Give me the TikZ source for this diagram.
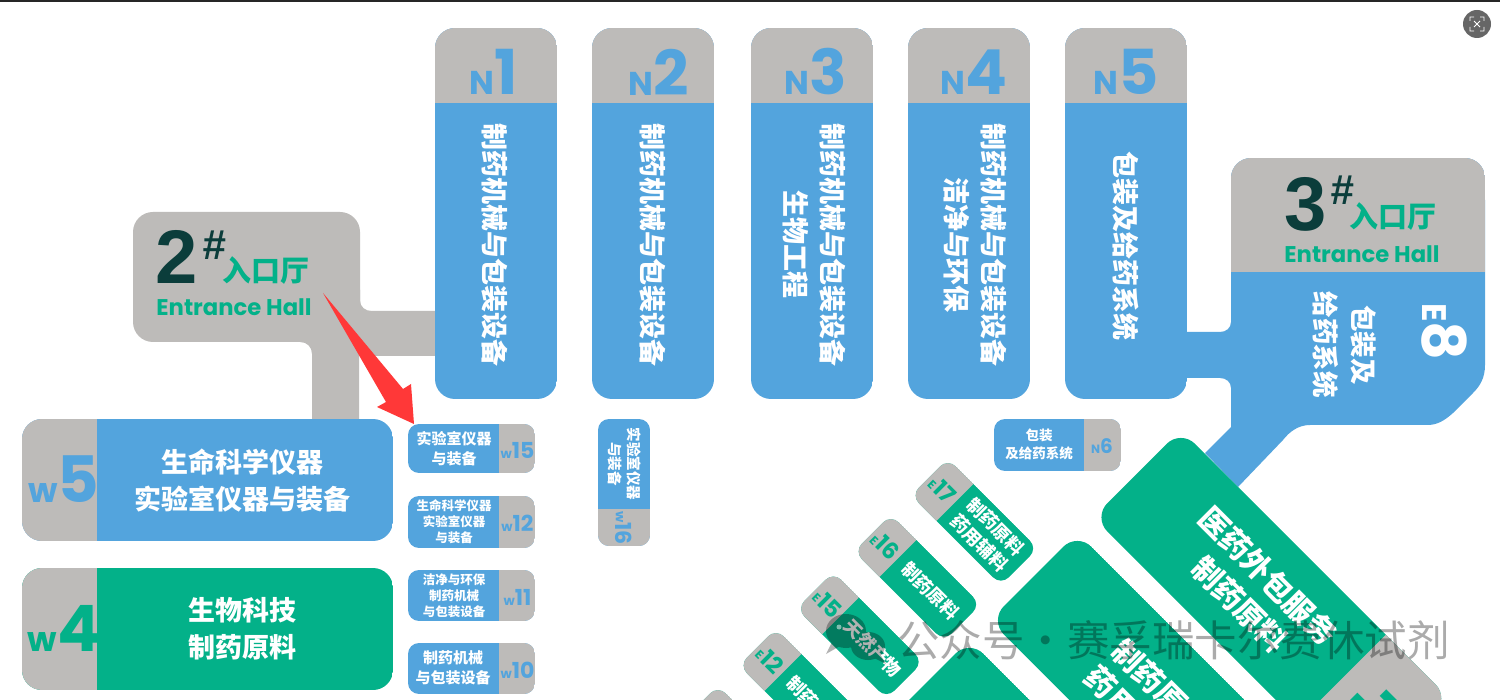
\documentclass[tikz,border=0pt]{standalone}
\usepackage{fontspec}
\setmainfont{Poppins}
\newfontfamily\cjk{Noto Sans CJK SC}
\newfontfamily\digitfont{Liberation Sans}
\definecolor{hblue}{HTML}{53A4DD}
\definecolor{hgreen}{HTML}{03B189}
\definecolor{hgray}{HTML}{BDBBB9}
\definecolor{hdark}{HTML}{0B3D3B}
\definecolor{hred}{HTML}{FF3838}
\newcommand{\fs}[2]{\fontsize{#1}{#2}\selectfont}
\newcommand{\capnum}[4]{{\fs{#1}{#1}#3}{\fs{#2}{#2}#4}}
% body and cap of one hall: x0, y0, x1, y1, radius, body colour, cap rectangle
\newcommand{\hallbox}[7]{%
  \begin{scope}
    \clip[rounded corners=#5pt] (#1,#2) rectangle (#3,#4);
    \fill[#6] (#1,#2) rectangle (#3,#4);
    \fill[hgray] #7;
  \end{scope}}
\tikzset{
 zh/.style 2 args
  = {text=white, font=\cjk\bfseries\fs{#1}{#2}, align=center, inner sep=0pt},
 zhv/.style 2 args
  = {zh={#1}{#2}, rotate=-90},
 num/.style
  = {font=\bfseries, inner sep=0pt},
 hall/.style
  = {font=\digitfont\bfseries\fs{76}{76}, text=hdark, inner sep=0pt},
 hash/.style
  = {font=\digitfont\bfseries\itshape\fs{42}{42}, text=hdark, inner sep=0pt},
 entry/.style
  = {font=\cjk\bfseries\fs{29}{29}, text=hgreen, inner sep=0pt},
 hallname/.style
  = {font=\bfseries\fs{22.7}{24}, text=hgreen, inner sep=0pt},
 wmark/.style
  = {font=\cjk\fs{42.5}{48}, text=black, opacity=0.33, inner sep=0pt},
}
\begin{document}
\begin{tikzpicture}[x=1pt,y=-1pt]
  \useasboundingbox (0,0) rectangle (1500,700);
  \clip (0,0) rectangle (1500,700);
  \fill[white] (0,0) rectangle (1500,700);
  \fill[black!85] (0,0) rectangle (1500,2);

  % corridors
  \fill[hgray] (360,290) -- (360,300) .. controls (360,307) and (365,311) .. (372,311) -- (440,311)
    -- (440,356) -- (359,356) -- (359,425) -- (312,425) -- (312,354)
    .. controls (312,347) and (307,342) .. (300,342) -- (290,342) -- cycle;
  \fill[hgray, rounded corners=20pt] (133,212) rectangle (360,342);
  \fill[hblue] (1231,200) -- (1485,200) -- (1485,365) .. controls (1485,378) and (1480,386) .. (1473,393)
    -- (1453,413) .. controls (1444,421) and (1437,425) .. (1427,425) -- (1310,425)
    .. controls (1299,425) and (1290,431) .. (1283,440) -- (1238,487) -- (1205,453) -- (1231,427)
    -- (1231,388) .. controls (1231,382) and (1226,378) .. (1220,378) -- (1180,378) -- (1180,332)
    -- (1220,332) .. controls (1226,332) and (1231,328) .. (1231,322) -- cycle;
  \hallbox{1231}{158}{1485}{300}{20}{hblue}{(1231,158) rectangle (1485,272)}
  \fill[hblue] (1231,272) rectangle (1485,320);

  % north halls
  \hallbox{435}{28}{557}{399}{20}{hblue}{(435,28) rectangle (557,103)}
  \hallbox{592}{28}{714}{399}{20}{hblue}{(592,28) rectangle (714,103)}
  \hallbox{751}{28}{873}{399}{20}{hblue}{(751,28) rectangle (873,103)}
  \hallbox{908}{28}{1030}{399}{20}{hblue}{(908,28) rectangle (1030,103)}
  \hallbox{1065}{28}{1187}{399}{20}{hblue}{(1065,28) rectangle (1187,103)}
  \node[num, text=hblue] (n1cap) at (494,72) {\capnum{33}{62}{N}{1}};
  \node[num, text=hblue] (n2cap) at (659,72) {\capnum{33}{62}{N}{2}};
  \node[num, text=hblue] (n3cap) at (816,72) {\capnum{33}{62}{N}{3}};
  \node[num, text=hblue] (n4cap) at (974,72) {\capnum{33}{62}{N}{4}};
  \node[num, text=hblue] (n5cap) at (1126,72) {\capnum{33}{62}{N}{5}};
  \node[zhv={27}{37}] (n1text) at (495,245) {制药机械与包装设备};
  \node[zhv={27}{37}] (n2text) at (653,245) {制药机械与包装设备};
  \node[zhv={27}{37}] (n3text) at (814,245) {制药机械与包装设备\\生物工程};
  \node[zhv={27}{37}] (n4text) at (975,245) {制药机械与包装设备\\洁净与环保};
  \node[zhv={27}{37}] (n5text) at (1126,246) {包装及给药系统};

  % entrance halls
  \node[hall] (hall2) at (176.5,257) {2};
  \node[hash] (hash2) at (214,245) {\#};
  \node[entry] (entry2) at (266,271) {入口厅};
  \node[hallname] (name2) at (234,307) {Entrance Hall};
  \node[hall] (hall3) at (1306,204) {3};
  \node[hash] (hash3) at (1342,190) {\#};
  \node[entry] (entry3) at (1393,217) {入口厅};
  \node[hallname] (name3) at (1362,254) {Entrance Hall};
  \node[zhv={26.5}{38}] (e8text) at (1344,345) {包装及\\给药系统};
  \node[num, text=white, rotate=-90] (e8cap) at (1444,332) {\capnum{34}{60}{E}{8}};

  % west halls
  \hallbox{22}{419}{393}{541}{20}{hblue}{(22,419) rectangle (97,541)}
  \hallbox{22}{568}{393}{690}{20}{hgreen}{(22,568) rectangle (97,690)}
  \node[num, text=hblue] (w5cap) at (64,479) {\capnum{34}{64}{w}{5}};
  \node[num, text=hgreen] (w4cap) at (64,628) {\capnum{34}{64}{w}{4}};
  \node[zh={27}{37}] (w5text) at (242,481) {生命科学仪器\\实验室仪器与装备};
  \node[zh={27}{37}] (w4text) at (242,629) {生物科技\\制药原料};

  % small booths
  \hallbox{408}{424}{535}{473}{11}{hblue}{(499,424) rectangle (535,473)}
  \hallbox{408}{496}{535}{548}{11}{hblue}{(499,496) rectangle (535,548)}
  \hallbox{408}{570}{535}{621}{11}{hblue}{(499,570) rectangle (535,621)}
  \hallbox{408}{643}{535}{694}{11}{hblue}{(499,643) rectangle (535,694)}
  \hallbox{598}{419}{650}{546}{11}{hblue}{(598,509) rectangle (650,546)}
  \hallbox{994}{419}{1121}{471}{11}{hblue}{(1084,419) rectangle (1121,471)}
  \node[num, text=hblue] (w15cap) at (517.5,450) {\capnum{13}{22}{w}{15}};
  \node[num, text=hblue] (w12cap) at (517.5,523) {\capnum{13}{22}{w}{12}};
  \node[num, text=hblue] (w11cap) at (517.5,597) {\capnum{13}{22}{w}{11}};
  \node[num, text=hblue] (w10cap) at (517.5,670) {\capnum{13}{22}{w}{10}};
  \node[num, text=hblue, rotate=-90] (w16cap) at (624,528) {\capnum{13}{22}{w}{16}};
  \node[num, text=hblue] (n6cap) at (1102,446) {\capnum{12}{20}{N}{6}};
  \node[zh={15}{20}] (w15text) at (454,449) {实验室仪器\\与装备};
  \node[zh={12.5}{16}] (w12text) at (454,522) {生命科学仪器\\实验室仪器\\与装备};
  \node[zh={12.5}{16}] (w11text) at (454,596) {洁净与环保\\制药机械\\与包装设备};
  \node[zh={15}{20}] (w10text) at (453,668) {制药机械\\与包装设备};
  \node[zhv={14.5}{19}] (w16text) at (625,464) {实验室仪器\\与装备};
  \node[zh={13.5}{18}] (n6text) at (1039,444) {包装\\及给药系统};

  % tilted booths
  \begin{scope}[shift={(929.5,477)}, rotate=-45]
    \hallbox{0}{-26}{127}{26}{11}{hgreen}{(0,-26) rectangle (36,26)}
    \node[num, text=hgreen, transform shape] (e17cap) at (18,0) {\capnum{12}{23}{E}{17}};
    \node[zh={18}{23}, transform shape] (e17text) at (82,0) {制药原料\\药用辅料};
  \end{scope}
  \begin{scope}[shift={(872.5,533)}, rotate=-45]
    \hallbox{0}{-26}{127}{26}{11}{hgreen}{(0,-26) rectangle (36,26)}
    \node[num, text=hgreen, transform shape] (e16cap) at (18,0) {\capnum{12}{23}{E}{16}};
    \node[zh={18}{23}, transform shape] (e16text) at (82,0) {制药原料};
  \end{scope}
  \begin{scope}[shift={(815,590.4)}, rotate=-45]
    \hallbox{0}{-26}{127}{26}{11}{hgreen}{(0,-26) rectangle (36,26)}
    \node[num, text=hgreen, transform shape] (e15cap) at (18,0) {\capnum{12}{23}{E}{15}};
    \node[zh={18}{23}, transform shape] (e15text) at (82,0) {天然产物};
  \end{scope}
  \begin{scope}[shift={(757.5,647)}, rotate=-45]
    \hallbox{0}{-26}{127}{26}{11}{hgreen}{(0,-26) rectangle (36,26)}
    \node[num, text=hgreen, transform shape] (e12cap) at (18,0) {\capnum{12}{23}{E}{12}};
    \node[zh={18}{23}, transform shape] (e12text) at (82,0) {制药原料};
  \end{scope}
  \begin{scope}[shift={(699.5,704)}, rotate=-45]
    \hallbox{0}{-26}{127}{26}{11}{hgreen}{(0,-26) rectangle (36,26)}
  \end{scope}

  % large tilted halls
  \begin{scope}[shift={(1137,473.5)}, rotate=-45]
    \hallbox{0}{-62}{380}{62}{20}{hgreen}{(290,-62) rectangle (380,62)}
    \node[num, text=hgreen, transform shape] (e7cap) at (336,0) {\capnum{34}{64}{E}{7}};
    \node[zh={30}{40}, transform shape] (e7text) at (165,0) {医药外包服务\\制药原料};
  \end{scope}
  \begin{scope}[shift={(1033.5,576.5)}, rotate=-45]
    \hallbox{0}{-62}{380}{62}{20}{hgreen}{(290,-62) rectangle (380,62)}
    \node[zh={30}{38}, transform shape] (e6text) at (168,8) {制药原料\\药用辅料};
  \end{scope}
  \begin{scope}[shift={(925.5,683.5)}, rotate=-45]
    \hallbox{0}{-62}{380}{62}{20}{hgreen}{(290,-62) rectangle (380,62)}
  \end{scope}

  % red arrow
  \fill[hred] (323,293) -- (403,389) -- (411,384) -- (414,424) -- (377,407) -- (386,402) -- cycle;

  % corner icon
  \node[circle, fill=black!60, minimum size=28pt, inner sep=0pt] (icon) at (1477,24) {};
  \draw[white, line width=0.8pt] (icon.center) ++(-7,-3) -- ++(0,-4) -- ++(4,0)
    (icon.center) ++(7,-3) -- ++(0,-4) -- ++(-4,0)
    (icon.center) ++(-7,3) -- ++(0,4) -- ++(4,0)
    (icon.center) ++(7,3) -- ++(0,4) -- ++(-4,0)
    (icon.center) ++(-3,-3) -- ++(6,6) (icon.center) ++(3,-3) -- ++(-6,6);

  % watermark
  \begin{scope}[transparency group, opacity=0.3]
    \fill[black] (846,631) ellipse [x radius=20, y radius=17];
    \fill[black] (868,646) ellipse [x radius=17, y radius=14];
    \fill[black] (832,642) -- (826,654) -- (840,646) -- cycle;
    \fill[black] (880,654) -- (886,664) -- (874,658) -- cycle;
  \end{scope}
  \fill[white, opacity=0.5] (839,627) circle (2.5);
  \node[wmark, anchor=west] (wmarktext) at (897,640) {公众号·赛孚瑞卡尔费休试剂};
\end{tikzpicture}
\end{document}
